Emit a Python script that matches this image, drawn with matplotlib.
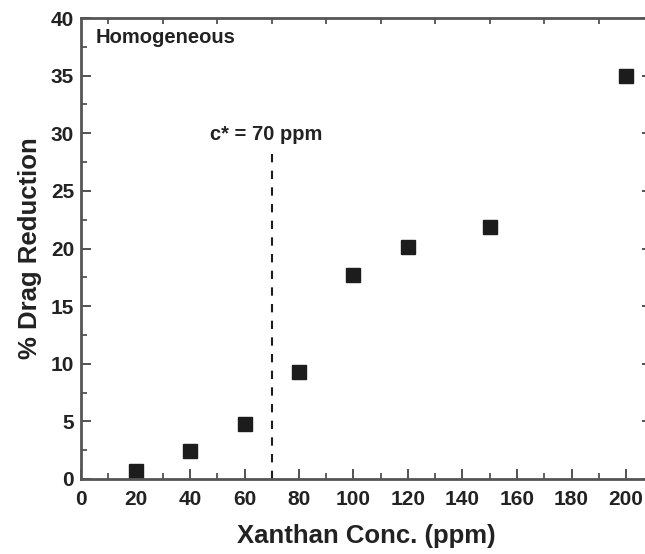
import matplotlib
matplotlib.use('Agg')
import matplotlib.pyplot as plt
from matplotlib.ticker import MultipleLocator

# === Dados ===
conc = [20, 40, 60, 80, 100, 120, 150, 200]
drag_red = [0.7, 2.4, 4.8, 9.3, 17.7, 20.1, 21.9, 35.0]
c_star = 70

plt.rcParams['font.family'] = ['Liberation Sans', 'DejaVu Sans']
plt.rcParams['font.weight'] = 'bold'

fig = plt.figure(figsize=(6.45, 5.54), dpi=100)
# eixo direito fica fora da figura (cortado como no original)
ax = fig.add_axes([81 / 645, 1 - 479 / 554, (652 - 81) / 645, (479 - 18) / 554])

ax.plot(conc, drag_red, 's', color='#1c1c1c', markersize=10)
ax.plot([c_star, c_star], [0, 28.4], '--', color='#1c1c1c', lw=1.5, dashes=(4, 4))
ax.text(c_star - 2, 29.85, 'c* = 70 ppm', ha='center', va='center', fontsize=14.5, fontweight='bold', color='#222222')
ax.text(5.5, 38.35, 'Homogeneous', ha='left', va='center', fontsize=14.5, fontweight='bold', color='#222222')

ax.set_xlim(0, (652 - 81) / 2.725)
ax.set_ylim(0, 40)
ax.xaxis.set_major_locator(MultipleLocator(20))
ax.xaxis.set_minor_locator(MultipleLocator(10))
ax.yaxis.set_major_locator(MultipleLocator(5))
ax.yaxis.set_minor_locator(MultipleLocator(2.5))
ax.set_xticks(range(0, 201, 20))

ax.tick_params(which='major', direction='in', length=7, width=1.3, colors='#444444',
               labelsize=15, labelcolor='#222222', top=False, right=True, pad=5)
ax.tick_params(axis='x', which='major', pad=8)
ax.tick_params(which='minor', direction='in', length=4, width=1.2, colors='#444444', top=True, right=True)
for lbl in ax.get_xticklabels() + ax.get_yticklabels():
    lbl.set_fontweight('bold')

for s in ax.spines.values():
    s.set_linewidth(2)
    s.set_color('#555555')

ax.set_xlabel('Xanthan Conc. (ppm)', fontsize=18.5, fontweight='bold', color='#222222', labelpad=11)
ax.set_ylabel('% Drag Reduction', fontsize=18.5, fontweight='bold', color='#222222', labelpad=6)

plt.savefig('out.png', dpi=100)
plt.close()
